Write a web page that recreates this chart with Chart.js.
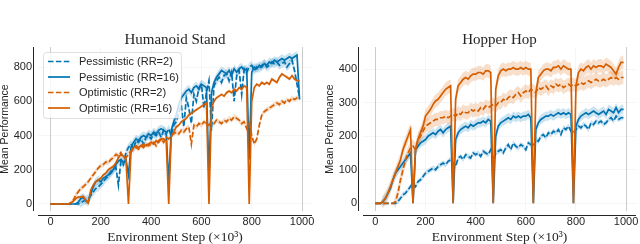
<!DOCTYPE html>
<html><head><meta charset="utf-8">
<script src="https://cdn.jsdelivr.net/npm/chart.js@4"></script>
<style>
html,body{margin:0;padding:0;background:#fff;width:640px;height:244px;overflow:hidden}
.c{position:absolute;top:0;width:320px;height:244px}
</style></head><body>
<div class="c" style="left:0"><canvas id="c1" width="320" height="244"></canvas></div>
<div class="c" style="left:320px"><canvas id="c2" width="320" height="244"></canvas></div>
<script>
// ---------- DATA ----------
const steps = Array.from({length:100},(_, i)=>i*10); // environment step (x10^3)
const xTicks = [0,200,400,600,800,1000];
const humanoidYTicks = [0,200,400,600,800];
const hopperYTicks = [0,100,200,300,400];
const seriesNames = ['Pessimistic (RR=2)','Pessimistic (RR=16)','Optimistic (RR=2)','Optimistic (RR=16)'];

const hsPess2 = [0,0,0,0,0,0,0,0,0,0, 0,0,5,15,25,30,50,70,90,100, 115,130,150,165,180,200,215,110,250,230,
 300,330,350,320,370,360,380,350,390,400, 380,410,400,420,390,430,410,440,400,460, 480,530,580,450,620,560,470,640,600,680,
 700,560,650,720,430,690,720,740,710,750, 760,720,770,600,750,780,640,790,770,800, 810,780,800,790,810,820,800,810,830,820,
 830,810,820,830,800,820,840,780,700,620];
const hsPess16 = [0,0,0,0,0,0,0,0,0,0, 0,10,30,40,20,10,60,100,130,140, 130,150,160,170,190,200,230,250,260,240,
 260,170,330,360,380,370,390,400,390,410, 400,420,410,430,440,430,420,120,430,480, 520,580,620,640,660,670,650,680,690,670,
 700,690,680,160,650,710,740,760,780,770, 760,780,750,790,770,790,800,780,790,260, 770,800,790,810,800,820,810,830,820,840,
 830,840,850,840,850,860,850,860,870,610];
const hsOpt2 = [0,0,0,0,0,0,0,0,5,20, 50,70,90,100,115,130,150,170,190,210, 225,230,245,240,260,270,290,280,300,270,
 270,290,310,320,330,320,340,330,350,340, 350,360,340,370,380,360,390,380,400,410, 420,410,430,420,440,450,350,460,450,470,
 460,480,470,460,480,470,490,480,470,490, 480,500,490,510,500,490,470,480,440,470, 400,350,380,460,520,540,550,560,570,580,
 590,580,600,590,610,600,620,610,620,630];
const hsOpt16 = [0,0,0,0,0,0,0,0,5,15, 30,40,40,45,20,5,80,110,130,140, 150,170,180,200,210,220,240,270,290,280,
 260,0,300,330,340,330,340,350,340,350, 360,350,370,360,380,380,370,0,390,420, 450,460,480,490,500,520,530,540,550,560,
 570,580,590,0,560,600,620,630,640,630, 650,660,650,670,660,680,670,690,680,0, 600,680,700,690,710,700,710,700,730,720,
 710,740,760,750,740,730,750,730,720,720];
const hsStd = [25,25,15,10];

const hhPess2 = [0,0,0,0,0,0,0,0,0,5, 15,25,30,40,50,60,50,65,70,80, 90,95,100,105,100,110,115,120,115,125,
 130,120,110,135,140,130,145,140,135,150, 145,150,140,155,150,145,160,130,150,155, 160,150,165,175,160,180,170,165,175,170,
 160,180,175,170,190,185,200,205,195,210, 205,215,210,220,205,225,220,230,215,210, 220,230,225,235,230,220,240,235,245,240,
 245,235,240,250,255,245,260,250,255,255];
const hhPess16 = [0,0,0,5,15,30,45,70,90,100, 110,120,130,140,150,0,160,170,180,185, 190,200,205,210,205,215,220,210,220,225,
 230,0,190,210,220,225,230,225,235,230, 235,240,240,245,240,250,245,0,200,230, 240,245,250,255,250,260,255,260,255,260,
 260,265,255,0,220,240,250,255,260,260, 265,260,265,270,265,270,265,270,265,0, 230,250,260,265,270,265,270,275,270,265,
 270,275,265,280,275,270,285,270,280,280];
const hhOpt2 = [0,0,0,0,0,0,0,0,5,30, 70,100,130,150,165,170,160,190,200,215, 230,235,240,245,250,250,255,255,260,255,
 260,265,260,270,265,275,270,270,280,275, 280,275,285,280,290,285,290,295,290,300, 300,310,305,315,320,315,325,330,320,330,
 335,330,340,335,330,345,340,345,350,340, 350,345,355,350,355,345,350,355,350,355, 350,355,360,355,360,365,360,365,370,365,
 365,370,365,370,375,370,375,370,375,375];
const hhOpt16 = [0,0,0,5,15,30,50,70,90,110, 130,160,180,200,220,0,160,190,210,230, 260,270,280,295,305,310,320,330,340,345,
 350,0,310,350,360,370,375,370,380,385, 385,390,390,385,395,395,390,0,340,380, 395,400,395,400,400,405,400,400,405,400,
 405,400,400,0,330,375,385,395,400,400, 395,405,405,410,400,410,405,400,400,0, 350,390,400,395,405,410,400,410,405,410,
 410,405,415,410,405,395,385,405,420,420];
const hhStd = [8,14,20,20];

// ---------- STYLE ----------
const BLUE = '#0173b2', ORANGE = '#d55e00';
const colors = [BLUE, BLUE, ORANGE, ORANGE];
const bandColors = ['rgba(1,115,178,0.2)','rgba(1,115,178,0.2)','rgba(213,94,0,0.2)','rgba(213,94,0,0.2)'];
const dashes = [[5.5,2.4],[],[5.5,2.4],[]];
const TXT = '#262626';
const LW = 1.7;

// band edge: value +/- spread (no spread where the curve sits at zero)
function pts(vals, sign, s){ return steps.map((x,i)=>({x:x, y:vals[i] + (vals[i] > 0 ? sign*s : 0)})); }

function buildDatasets(series, stds){
  const ds = [];
  series.forEach((vals,k)=>{
    ds.push({label:seriesNames[k], data:pts(vals,0,0), borderColor:colors[k], borderWidth:LW,
      borderDash:dashes[k], pointRadius:0, fill:false, tension:0, order:4-k});
  });
  series.forEach((vals,k)=>{
    const lowIdx = ds.length;
    ds.push({label:'_lo'+k, data:pts(vals,-1,stds[k]), borderWidth:0, pointRadius:0, fill:false, order:10});
    ds.push({label:'_hi'+k, data:pts(vals,1,stds[k]), borderWidth:0, pointRadius:0,
      backgroundColor:bandColors[k], fill:{target:lowIdx}, order:10});
  });
  return ds;
}

const decor = {
  id:'decor',
  afterDraw(chart, args, opts){
    const {ctx, chartArea:a} = chart;
    ctx.save();
    ctx.strokeStyle = TXT; ctx.lineWidth = 1;
    const sx = Math.round(a.left) - 5 + 0.5;
    ctx.beginPath(); ctx.moveTo(sx, a.top); ctx.lineTo(sx, a.bottom); ctx.stroke();
    const sy = Math.round(a.bottom) + 4 + 0.5;
    ctx.beginPath(); ctx.moveTo(a.left, sy); ctx.lineTo(a.right, sy); ctx.stroke();
    ctx.fillStyle = TXT; ctx.font = '15px "Liberation Serif"';
    ctx.textAlign = 'center'; ctx.textBaseline = 'middle';
    ctx.fillText(opts.title, (a.left + a.right)/2, 40);
    ctx.restore();
  },
  afterDatasetsDraw(chart, args, opts){
    if(!opts.legend) return;
    const ctx = chart.ctx;
    ctx.save();
    const bx=43.5, by=52.5, bw=138, bh=66, r=3;
    ctx.beginPath();
    ctx.moveTo(bx+r,by); ctx.lineTo(bx+bw-r,by); ctx.arcTo(bx+bw,by,bx+bw,by+r,r);
    ctx.lineTo(bx+bw,by+bh-r); ctx.arcTo(bx+bw,by+bh,bx+bw-r,by+bh,r);
    ctx.lineTo(bx+r,by+bh); ctx.arcTo(bx,by+bh,bx,by+bh-r,r);
    ctx.lineTo(bx,by+r); ctx.arcTo(bx,by,bx+r,by,r); ctx.closePath();
    ctx.fillStyle='rgba(255,255,255,0.8)'; ctx.fill();
    ctx.strokeStyle='rgba(0,0,0,0.12)'; ctx.lineWidth=1; ctx.stroke();
    const rows=[61.5,77,92.5,108];
    ctx.font='11px "Liberation Sans"'; ctx.textAlign='left'; ctx.textBaseline='middle';
    seriesNames.forEach((n,k)=>{
      ctx.strokeStyle=colors[k]; ctx.lineWidth=LW; ctx.setLineDash(dashes[k]);
      ctx.beginPath(); ctx.moveTo(48,rows[k]); ctx.lineTo(70,rows[k]); ctx.stroke();
      ctx.setLineDash([]);
      ctx.fillStyle=TXT; ctx.fillText(n,79,rows[k]+0.5);
    });
    ctx.restore();
  }
};

function makeChart(id, series, stds, yMin, yMax, yTicks, title, yWidth, rightPad, yTitlePad, legend){
  return new Chart(document.getElementById(id), {
    type:'line',
    data:{datasets:buildDatasets(series, stds)},
    plugins:[decor],
    options:{
      responsive:false, animation:false, devicePixelRatio:1, events:[],
      layout:{padding:{left:0,right:rightPad,top:47,bottom:0}},
      plugins:{legend:{display:false}, tooltip:{enabled:false}, title:{display:false},
        filler:{drawTime:'beforeDatasetsDraw', propagate:false},
        decor:{title:title, legend:legend}},
      scales:{
        x:{type:'linear', min:-49.5, max:1039.5,
          afterBuildTicks:s=>{s.ticks = xTicks.map(v=>({value:v}));},
          afterFit:s=>{s.height=33; s.paddingLeft=0; s.paddingRight=0;},
          border:{display:false},
          grid:{drawTicks:false, lineWidth:1,
            color:c=>(c.tick && (c.tick.value===0 || c.tick.value===1000)) ? '#cccccc' : 'rgba(0,0,0,0.035)'},
          ticks:{padding:4, color:TXT, font:{family:'Liberation Sans', size:11}, maxRotation:0, autoSkip:false,
            callback:v=>String(v)},
          title:{display:true, text:'Environment Step (×10³)', color:TXT,
            font:{family:'Liberation Serif', size:13.5, lineHeight:1}, padding:{top:0,bottom:0}}
        },
        y:{type:'linear', min:yMin, max:yMax,
          afterBuildTicks:s=>{s.ticks = yTicks.map(v=>({value:v}));},
          afterFit:s=>{s.width=yWidth; s.paddingTop=0; s.paddingBottom=0;},
          border:{display:false},
          grid:{drawTicks:false, lineWidth:1, color:'rgba(0,0,0,0.035)'},
          ticks:{padding:6, color:TXT, font:{family:'Liberation Sans', size:11}, callback:v=>String(v)},
          title:{display:true, text:'Mean Performance', color:TXT,
            font:{family:'Liberation Sans', size:10.5, lineHeight:1}, padding:{top:yTitlePad,bottom:0}}
        }
      }
    }
  });
}

makeChart('c1', [hsPess2,hsPess16,hsOpt2,hsOpt16], hsStd, -41, 917, humanoidYTicks, 'Humanoid Stand', 38, 8, 0, true);
makeChart('c2', [hhPess2,hhPess16,hhOpt2,hhOpt16], hhStd, -23, 466, hopperYTicks, 'Hopper Hop', 43, 4, 5, false);
</script>
</body></html>
